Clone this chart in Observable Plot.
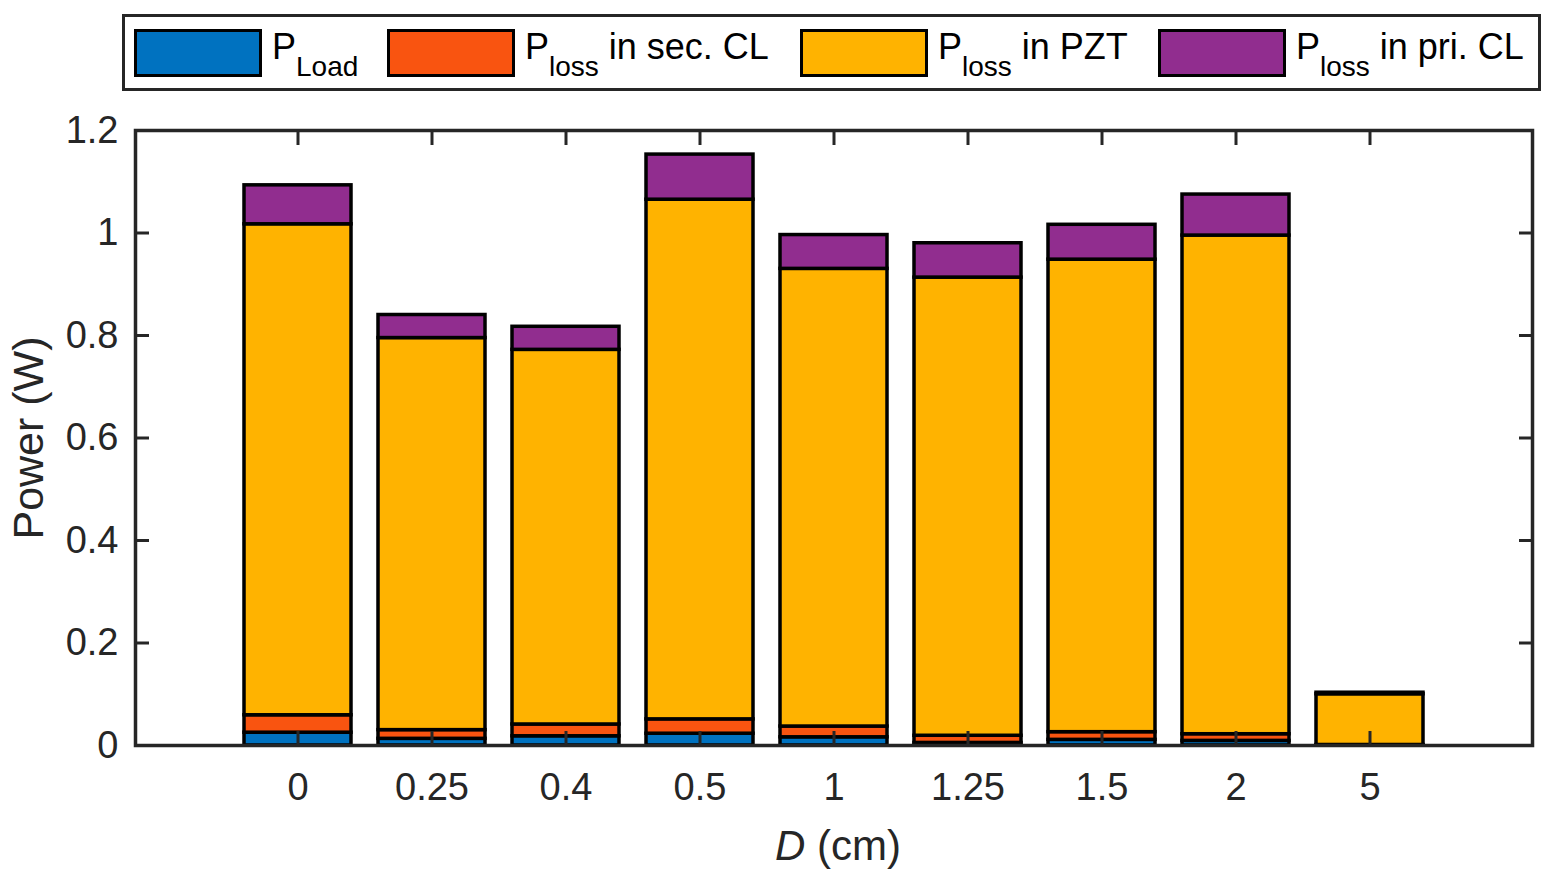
<!DOCTYPE html>
<html>
<head>
<meta charset="utf-8">
<script src="https://cdn.jsdelivr.net/npm/d3@7"></script>
<script src="https://cdn.jsdelivr.net/npm/@observablehq/plot@0.6"></script>
<style>
  body { margin: 0; background: #fff; font-family: "Liberation Sans", Arial, sans-serif; }
  #wrap { position: relative; width: 1559px; height: 881px; }
  #wrap svg { display: block; }
  #legend { position: absolute; left: 122px; top: 14px; width: 1413px; height: 71px;
            border: 3px solid #262626; background: #fff; }
  .item { position: absolute; top: 12px; display: flex; align-items: flex-start; }
  .sw { width: 122px; height: 42px; border: 3px solid #000; }
  .lab { margin-left: 10px; font-size: 36px; line-height: 36px; color: #000; white-space: pre; }
  .lab sub { font-size: 28px; vertical-align: -17px; line-height: 0; }
</style>
</head>
<body>
<div id="wrap"></div>
<script>
// distance D (cm) categories
var categories = ["0", "0.25", "0.4", "0.5", "1", "1.25", "1.5", "2", "5"];

// power components (W), bottom to top of each stack
var pLoad  = [0.025, 0.013, 0.018, 0.023, 0.016, 0.005, 0.011, 0.009, 0.0005];
var pSecCL = [0.034, 0.017, 0.023, 0.028, 0.021, 0.014, 0.015, 0.013, 0.0005];
var pPZT   = [0.958, 0.765, 0.731, 1.014, 0.893, 0.894, 0.922, 0.973, 0.099];
var pPriCL = [0.076, 0.045, 0.045, 0.088, 0.066, 0.067, 0.068, 0.080, 0.003];

var seriesNames = ["P_Load", "P_loss in sec. CL", "P_loss in PZT", "P_loss in pri. CL"];
var seriesColors = ["#0072c0", "#f95410", "#ffb300", "#912d8f"];
var legendMain = ["P", "P", "P", "P"];
var legendSub = ["Load", "loss", "loss", "loss"];
var legendRest = ["", " in sec. CL", " in PZT", " in pri. CL"];

var yTicks = [0, 0.2, 0.4, 0.6, 0.8, 1, 1.2];

var series = [pLoad, pSecCL, pPZT, pPriCL];
var rows = [];
categories.forEach(function (c, i) {
  series.forEach(function (s, k) {
    rows.push({ D: c, series: seriesNames[k], value: s[i] });
  });
});

var ink = "#262626";

var chart = Plot.plot({
  width: 1559,
  height: 881,
  marginLeft: 135,
  marginRight: 27,
  marginTop: 130,
  marginBottom: 136,
  style: { color: ink, fontFamily: "'Liberation Sans', Arial, sans-serif", background: "#fff" },
  x: { domain: categories, paddingInner: 0.2, paddingOuter: 0.79 },
  y: { domain: [0, 1.2] },
  color: { domain: seriesNames, range: seriesColors },
  marks: [
    Plot.barY(rows, {
      x: "D", y: "value", fill: "series",
      stroke: "#000", strokeWidth: 3.5, strokeLinejoin: "miter"
    }),
    Plot.frame({ stroke: ink, strokeWidth: 3.5 }),
    // inward ticks on all four sides
    Plot.axisY({ ticks: yTicks, tickSize: -14, fill: "none", label: null, stroke: ink, strokeWidth: 3 }),
    Plot.axisY({ ticks: yTicks, anchor: "right", tickSize: -14, fill: "none", label: null, stroke: ink, strokeWidth: 3 }),
    Plot.axisX({ tickSize: -14, fill: "none", label: null, stroke: ink, strokeWidth: 3 }),
    Plot.axisX({ anchor: "top", tickSize: -14, fill: "none", label: null, stroke: ink, strokeWidth: 3 }),
    // tick labels
    Plot.axisY({ ticks: yTicks, tickSize: 0, tickPadding: 17, fontSize: 38, label: null, tickFormat: d => String(d) }),
    Plot.axisX({ tickSize: 0, tickPadding: 28, fontSize: 38, label: null }),
    Plot.text(["Power (W)"], {
      frameAnchor: "left", textAnchor: "middle", dx: -106, rotate: -90, fontSize: 43, fill: ink
    })
  ]
});

var wrap = document.getElementById("wrap");
wrap.appendChild(chart);

// x label with italic D
var xl = d3.select(chart).append("text")
  .attr("x", 838).attr("y", 860)
  .attr("text-anchor", "middle")
  .attr("font-size", 42)
  .attr("fill", ink);
xl.append("tspan").attr("font-style", "italic").text("D");
xl.append("tspan").text(" (cm)");

// legend
var legendLeft = [9, 262, 675, 1033];
var legend = d3.select(wrap).append("div").attr("id", "legend");
seriesNames.forEach(function (name, k) {
  var item = legend.append("div").attr("class", "item").style("left", legendLeft[k] + "px");
  item.append("div").attr("class", "sw").style("background", seriesColors[k]);
  var lab = item.append("div").attr("class", "lab");
  lab.append("span").text(legendMain[k]);
  lab.append("sub").text(legendSub[k]);
  lab.append("span").text(legendRest[k]);
});
</script>
</body>
</html>
